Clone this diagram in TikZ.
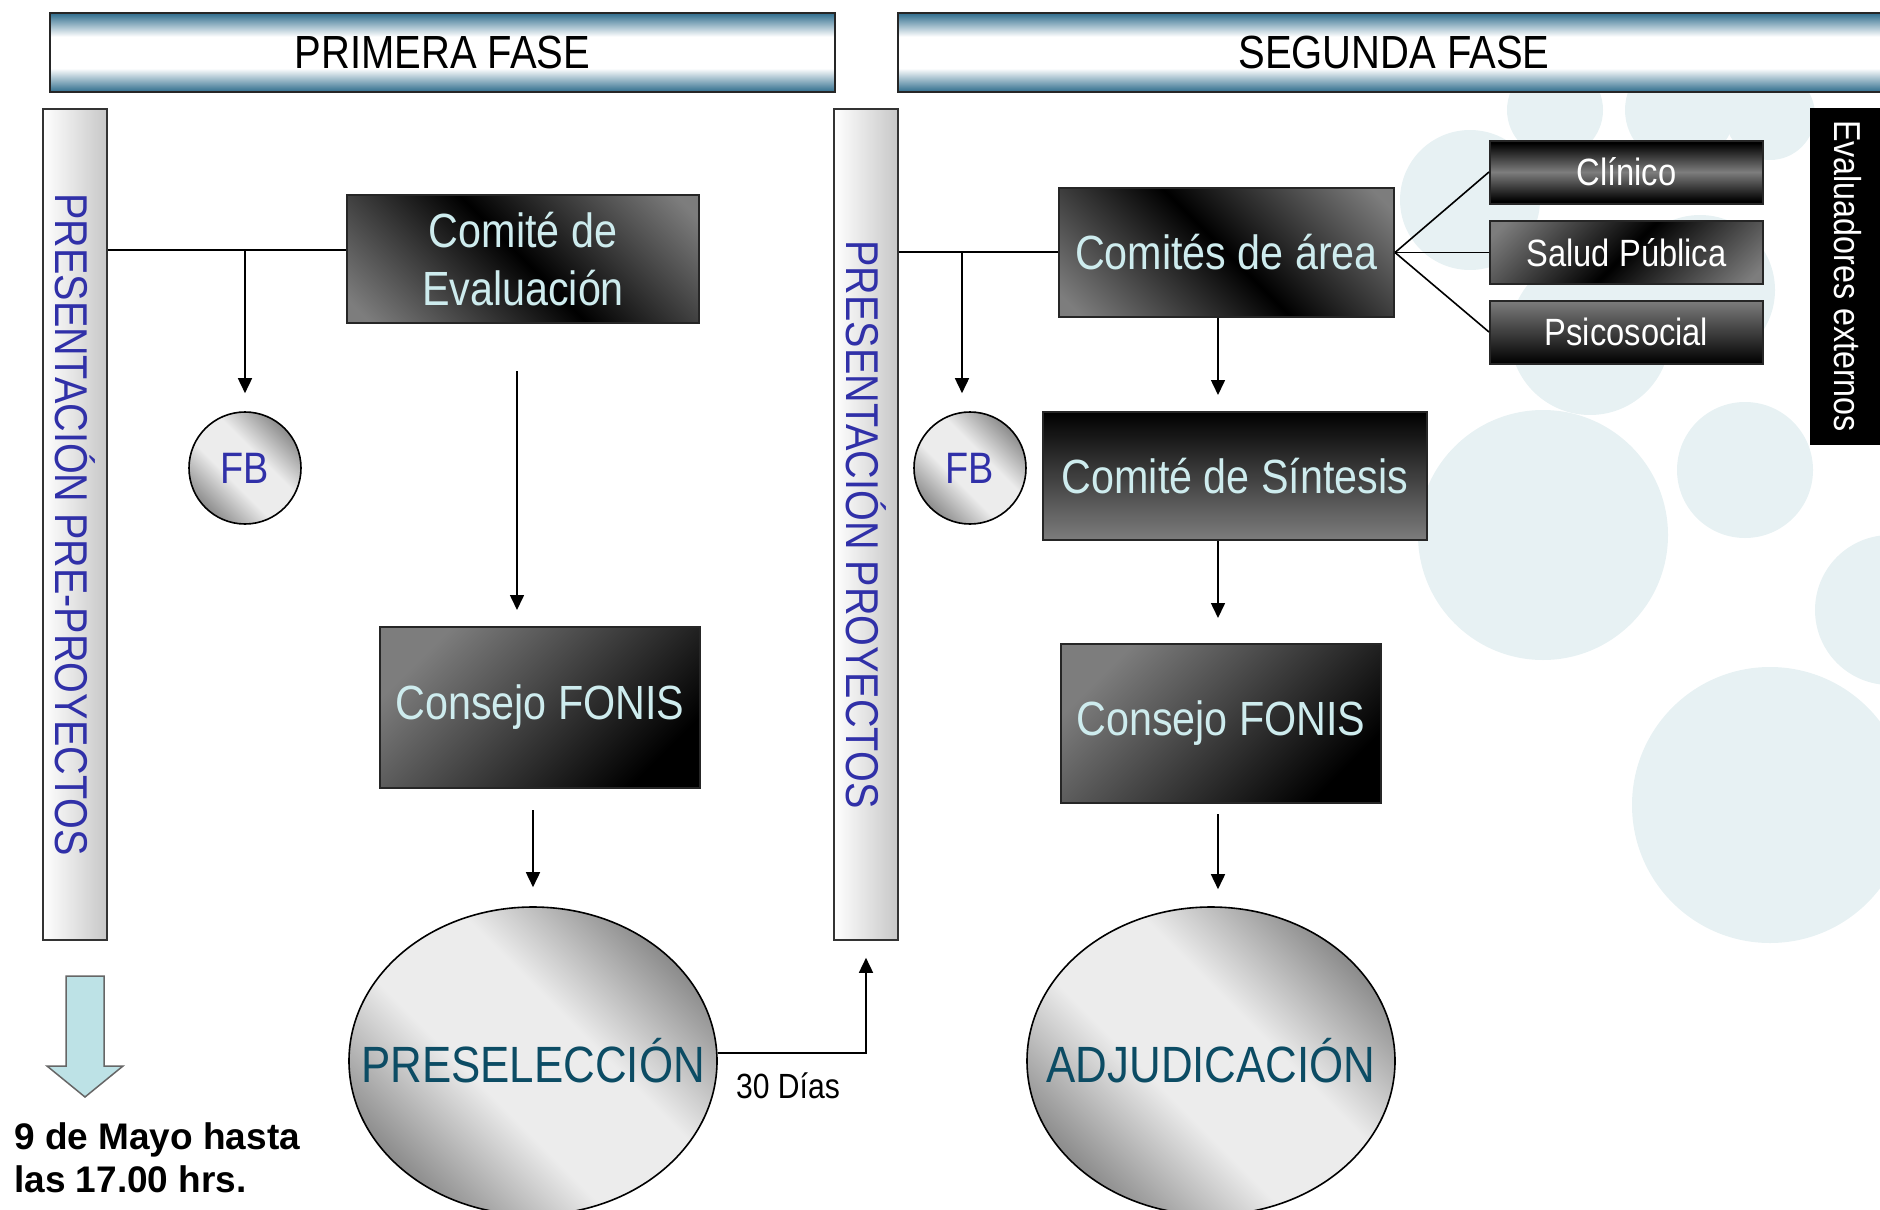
\documentclass[tikz,border=0pt]{standalone}
\usepackage{fontspec}
\setmainfont{Liberation Sans}
\newfontfamily\narrowfont[FakeStretch=0.86]{Liberation Sans}
\usetikzlibrary{arrows.meta,shapes.geometric}

\definecolor{fasecol}{RGB}{46,108,140}
\definecolor{boxgray}{RGB}{125,125,125}
\definecolor{boxtext}{RGB}{206,236,238}
\definecolor{lblblue}{RGB}{48,48,168}
\definecolor{selteal}{RGB}{12,76,100}
\definecolor{balldk}{RGB}{112,112,112}
\definecolor{balllt}{RGB}{236,236,236}
\definecolor{bgblue}{RGB}{231,241,243}
\definecolor{arrowcyan}{RGB}{189,226,230}

\pgfdeclareverticalshading{fasebar}{100bp}{color(0bp)=(fasecol); color(25bp)=(fasecol); color(40bp)=(white); color(60bp)=(white); color(75bp)=(fasecol); color(100bp)=(fasecol)}
\pgfdeclareverticalshading{ridge}{100bp}{color(0bp)=(boxgray); color(18bp)=(boxgray); color(50bp)=(black); color(82bp)=(boxgray); color(100bp)=(boxgray)}
\pgfdeclareverticalshading{band}{100bp}{color(0bp)=(black); color(27bp)=(black); color(50bp)=(boxgray); color(73bp)=(black); color(100bp)=(black)}
\pgfdeclareverticalshading{ballshade}{100bp}{color(0bp)=(balldk); color(20bp)=(balldk); color(42bp)=(balllt); color(58bp)=(balllt); color(80bp)=(balldk); color(100bp)=(balldk)}

\newcommand{\fsz}[2]{\fontsize{#1}{#2}\selectfont}

\tikzset{
  fase/.style={draw=black!85, line width=2pt, shading=fasebar, minimum height=79pt, inner sep=0pt, font=\narrowfont\fsz{46.5}{50}},
  presbar/.style={draw=black!80, line width=1.6pt, left color=white, right color=black!22, minimum width=64pt, minimum height=831pt, inner sep=0pt},
  preslabel/.style={rotate=-90, text=lblblue, inner sep=0pt, font=\narrowfont\fsz{46}{50}},
  dkbox/.style={draw=black!85, line width=2pt, inner sep=0pt, align=center, text=boxtext, font=\narrowfont\fsz{48}{58}},
  smbox/.style={draw=black!85, line width=2pt, inner sep=0pt, minimum width=273pt, minimum height=63pt, text=white, font=\narrowfont\fsz{38}{44}},
  fbball/.style={circle, draw=black, line width=1.6pt, shading=ballshade, shading angle=-45, minimum size=112pt, inner sep=0pt, text=lblblue, font=\narrowfont\fsz{44}{48}},
  bigoval/.style={ellipse, draw=black, line width=1.6pt, shading=ballshade, shading angle=-45, minimum width=368pt, minimum height=308pt, inner sep=0pt, text=selteal, font=\narrowfont\fsz{51}{56}},
  conn/.style={line width=1.6pt},
  arr/.style={conn, -{Triangle[length=15pt,width=14pt]}},
  dot/.style={fill=bgblue}
}

\begin{document}
\begin{tikzpicture}[x=1pt,y=-1pt]
    \useasboundingbox (0,0) rectangle (1880,1210);
    % background dots
    \fill[dot] (1555,110) circle (48pt);
    \fill[dot] (1680,110) circle (55pt);
    \fill[dot] (1770,115) circle (45pt);
    \fill[dot] (1470,200) circle (70pt);
    \fill[dot] (1590,335) circle (80pt);
    \fill[dot] (1700,290) circle (75pt);
    \fill[dot] (1745,470) circle (68pt);
    \fill[dot] (1543,535) circle (125pt);
    \fill[dot] (1770,805) circle (138pt);
    \fill[dot] (1890,610) circle (75pt);

    % phase banners
    \node[fase, minimum width=785pt] (fase1) at (442.5,52.5) {PRIMERA FASE};
    \node[fase, minimum width=992pt] (fase2) at (1394,52.5) {SEGUNDA FASE};

    % first phase
    \node[presbar] (barL) at (75,524.5) {};
    \node[preslabel] (lblL) at (barL.center) {PRESENTACIÓN PRE-PROYECTOS};
    \node[dkbox, shading=ridge, shading angle=-45, minimum width=352pt, minimum height=128pt] (evalcom) at (523,259) {Comité de\\Evaluación};
    \node[fbball] (fb1) at (245,468) {FB};
    \node[dkbox, top color=boxgray, bottom color=black, shading angle=45, minimum width=320pt, minimum height=161pt] (fonis1) at (540,707.5) {Consejo FONIS};
    \node[bigoval] (presel) at (533,1061) {\makebox[0pt]{PRESELECCIÓN}};

    \coordinate (jL) at (245,250);
    \draw[conn] (barL.east |- jL) -- (evalcom.west |- jL);
    \draw[arr, shorten >=18pt] (jL) -- (jL |- fb1.north);
    \draw[arr, shorten <=47pt, shorten >=16pt] ([xshift=-6pt]evalcom.south) -- ([xshift=-6pt]evalcom.south |- fonis1.north);
    \draw[arr, shorten <=21pt, shorten >=19pt] (presel.north |- fonis1.south) -- (presel.north);

    % second phase
    \node[presbar] (barR) at (866,524.5) {};
    \node[preslabel] (lblR) at (barR.center) {PRESENTACIÓN PROYECTOS};
    \draw[arr, shorten >=17pt] ([yshift=8pt]presel.east) -| (barR.south);
    \node[font=\narrowfont\fsz{35}{40}] (dias) at (788,1086) {30 Días};

    \node[dkbox, shading=ridge, shading angle=-45, minimum width=335pt, minimum height=129pt] (area) at (1226.5,252.5) {Comités de área};
    \node[smbox, shading=band] (clin) at (1626.5,172) {Clínico};
    \node[smbox, shading=ridge, shading angle=45] (salud) at (1626.5,252.5) {Salud Pública};
    \node[smbox, top color=boxgray, bottom color=black] (psico) at (1626.5,332) {Psicosocial};
    \node[rotate=-90, fill=black, minimum width=337pt, minimum height=76pt, inner sep=0pt, text=white, font=\narrowfont\fsz{37.5}{42}] (evalext) at (1848,276) {Evaluadores externos};
    \node[fbball] (fb2) at (970,468) {FB};
    \node[dkbox, top color=black, bottom color=boxgray, minimum width=384pt, minimum height=128pt] (sint) at (1235,476) {Comité de Síntesis};
    \node[dkbox, top color=boxgray, bottom color=black, shading angle=45, minimum width=320pt, minimum height=159pt] (fonis2) at (1221,723.5) {Consejo FONIS};
    \node[bigoval] (adj) at (1211,1061) {\makebox[0pt]{ADJUDICACIÓN}};

    \coordinate (jR) at (962,252);
    \coordinate (cR) at (1218,0);
    \draw[conn] (barR.east |- jR) -- (area.west |- jR);
    \draw[arr, shorten >=18pt] (jR) -- (jR |- fb2.north);
    \draw[conn] (area.east) -- (clin.west);
    \draw[conn] (area.east) -- (salud.west);
    \draw[conn] (area.east) -- (psico.west);
    \draw[arr, shorten >=16pt] (area.south -| cR) -- (sint.north -| cR);
    \draw[arr, shorten >=25pt] (sint.south -| cR) -- (fonis2.north -| cR);
    \draw[arr, shorten <=10pt, shorten >=17pt] (fonis2.south -| cR) -- (adj.north -| cR);

    % deadline
    \draw[line width=1.5pt, draw=black!60, fill=arrowcyan] (66,976) -- (104,976) -- (104,1066) -- (123,1066) -- (85,1097) -- (47,1066) -- (66,1066) -- cycle;
    \node[anchor=north west, inner sep=0pt, align=left, font=\bfseries\fsz{37}{43}] (fecha) at (14,1122) {9 de Mayo hasta\\las 17.00 hrs.};
\end{tikzpicture}
\end{document}
